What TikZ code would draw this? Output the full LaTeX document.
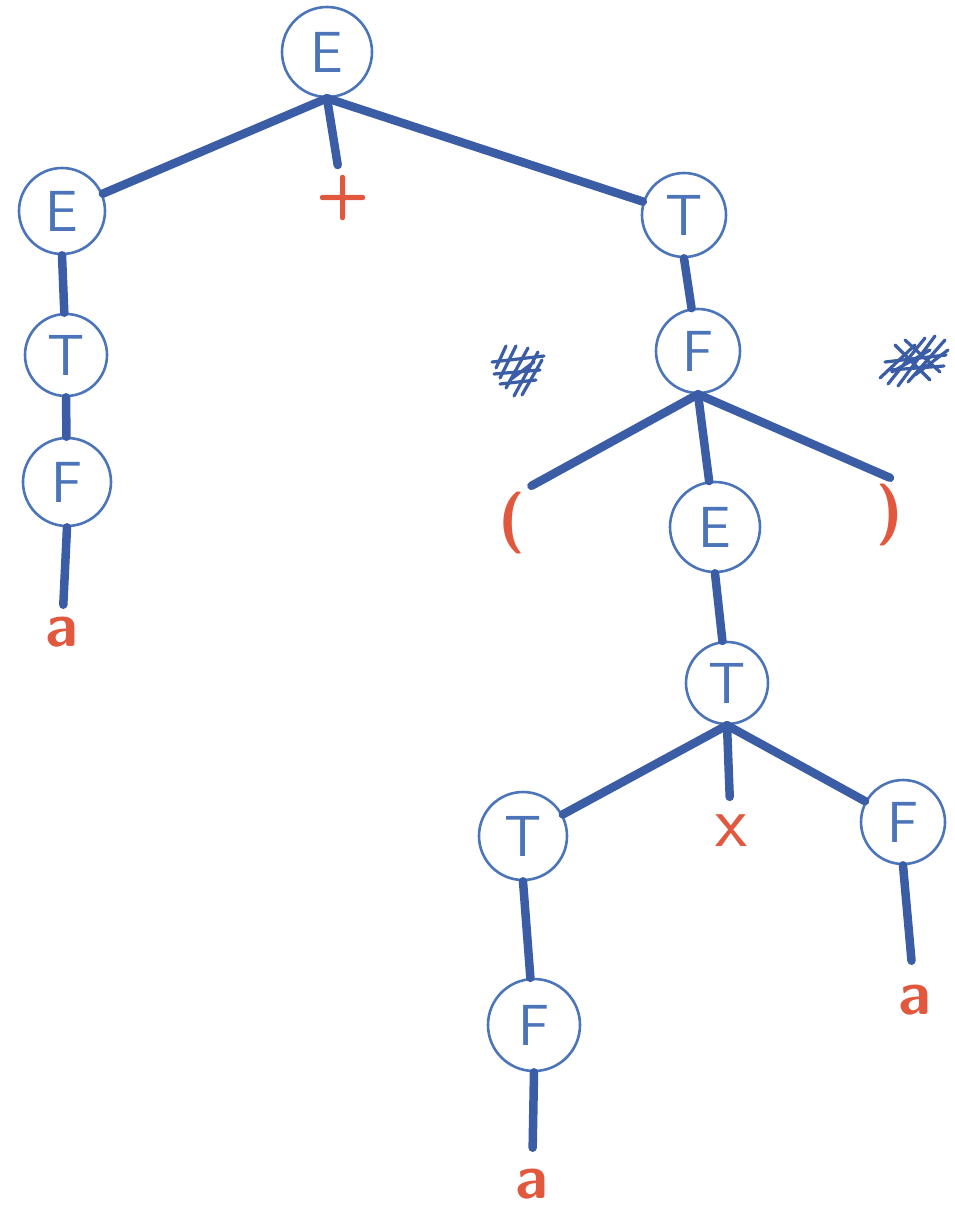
\documentclass[tikz,border=0pt]{standalone}
\usepackage{fontspec}
\definecolor{penblue}{HTML}{3A5DA6}
\definecolor{inkblue}{HTML}{4C74B9}
\definecolor{penred}{HTML}{E2583E}
\tikzset{nt/.style={circle, draw=inkblue, line width=2.6pt, minimum size=86pt, inner sep=0pt, text=inkblue, font=\fontsize{58}{60}\selectfont\sffamily},
tm/.style={text=penred, inner sep=12pt, font=\fontsize{62}{66}\selectfont\sffamily\bfseries},
edge/.style={draw=penblue, line width=8.5pt, line cap=round},
%hatching over the two crossed-out marks
scrib/.style={draw=penblue, line width=3.2pt, line cap=round, line join=round}}

\begin{document}
\begin{tikzpicture}[x=1pt, y=-1pt]
\useasboundingbox (0,0) rectangle (955,1210);

% nonterminals
\node[nt, minimum size=90pt] (e0) at (327,52) {E};
\node[nt] (e1) at (62,211) {E};
\node[nt, minimum size=82pt] (t1) at (66,355) {T};
\node[nt, minimum size=88pt] (f1) at (67,482) {F};

\node[nt, minimum size=84pt] (t2) at (684,215) {T};
\node[nt, minimum size=84pt] (f2) at (698,351) {F};
\node[nt, minimum size=90pt] (e2) at (715,527) {E};
\node[nt, minimum size=82pt] (t3) at (727,683) {T};
\node[nt, minimum size=88pt] (t4) at (523,836) {T};
\node[nt, minimum size=92pt] (f4) at (534,1025) {F};
\node[nt, minimum size=84pt] (f3) at (903,822) {F};

% terminals
\node[tm] (a1) at (62,632) {a};
\node[tm, inner sep=10pt] (plus) at (343,198) {+};
\node[tm, inner sep=6pt] (lp) at (512,523) {(};
\node[tm, inner sep=6pt] (rp) at (890,515) {)};
\node[tm, inner sep=18pt, font=\fontsize{74}{80}\selectfont\sffamily] (times) at (731,831) {x};
\node[tm, inner sep=3pt] (a2) at (532,1184) {a};
\node[tm, inner sep=24pt] (a3) at (915,1000) {a};

\foreach \p/\c in {e0/e1, e0/plus, e0/t2, e1/t1, t1/f1, f1/a1, t2/f2, f2/e2, e2/t3,
                   t3/t4, t3/times, t3/f3, t4/f4, f3/a3}
    \draw[edge] (\p.south) -- (\c);
\draw[edge, shorten >=18pt] (f4.south) -- (a2);
\draw[edge] (f2.south) -- (lp.north east);
\draw[edge] (f2.south) -- (rp.north);

% crossed-out marks
\draw[scrib] (496,368) -- (506,346) (500,378) -- (516,346) (506,388) -- (528,348)
             (514,396) -- (538,352) (522,395) -- (542,360) (510,380) -- (534,362);
\draw[scrib] (492,362) -- (544,356) (494,374) -- (540,370) (500,384) -- (536,380);
\draw[scrib] (880,378) -- (915,345) (888,384) -- (925,338) (898,386) -- (935,336)
             (908,382) -- (945,340) (915,375) -- (948,350) (892,372) -- (930,350);
\draw[scrib] (885,362) -- (946,355) (895,345) -- (930,380) (905,340) -- (940,372)
             (890,370) -- (944,366);

\end{tikzpicture}
\end{document}
